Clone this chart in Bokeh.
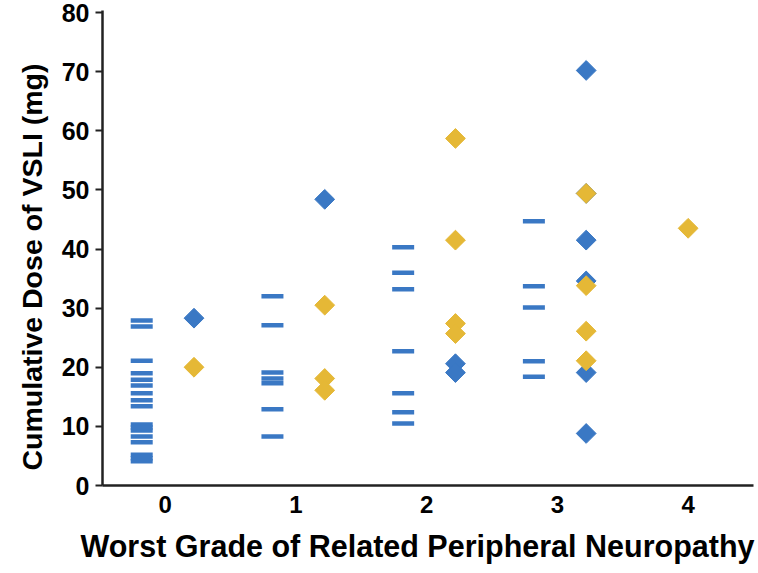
import numpy as np
from bokeh.plotting import figure
from bokeh.models import FixedTicker, Range1d, Title
from bokeh.embed import file_html
from bokeh.resources import INLINE

# Worst grade of related peripheral neuropathy (x categories)
grades = [0, 1, 2, 3, 4]
grade_labels = ["0", "1", "2", "3", "4"]

# Series 1: blue dashes (cumulative dose, mg) by grade
dash_grade = [0] * 17 + [1] * 7 + [2] * 7 + [3] * 5
dash_dose = [27.9, 26.9, 21.1, 19.0, 17.9, 16.9, 15.6, 14.4, 13.4,
             10.3, 9.3, 8.3, 7.3, 5.2, 4.1, 4.6, 9.8,
             32.0, 27.1, 19.1, 18.1, 17.3, 12.9, 8.3,
             40.3, 36.0, 33.2, 22.7, 15.6, 12.4, 10.5,
             44.7, 33.7, 30.1, 21.0, 18.4]

# Series 2: blue diamonds
blue_grade = [0, 1, 2, 2, 3, 3, 3, 3, 3, 3]
blue_dose = [28.3, 48.4, 20.6, 19.1, 70.2, 49.4, 41.5, 34.6, 19.1, 8.8]

# Series 3: yellow diamonds
yellow_grade = [0, 1, 1, 1, 2, 2, 2, 2, 3, 3, 3, 3, 4]
yellow_dose = [20.0, 30.5, 18.1, 16.1, 58.7, 41.5, 27.4, 25.7,
               49.4, 33.8, 26.1, 21.1, 43.5]

y_ticks = [0, 10, 20, 30, 40, 50, 60, 70, 80]

x_title = "Worst Grade of Related Peripheral Neuropathy"
y_title = "Cumulative Dose of VSLI (mg)"

BLUE = "#3A78C4"
YELLOW = "#E5B836"
FONT = "Liberation Sans"

# offsets: dashes left of the grade, diamonds right of it when both present
dash_groups = set(dash_grade)
def dia_x(g):
    return g + 0.22 if g in dash_groups else g
def dash_x(g):
    return g - 0.18

p = figure(width=756, height=573, output_backend="svg", toolbar_location=None,
           x_range=Range1d(-0.48, 4.5), y_range=Range1d(0, 80.34),
           min_border_left=102, min_border_right=3, min_border_top=10,
           min_border_bottom=88)
p.outline_line_color = None
p.grid.visible = False
p.background_fill_color = "white"
p.border_fill_color = "white"

p.scatter([dash_x(g) for g in dash_grade], dash_dose, marker="dash", size=22,
          line_color=BLUE, line_width=4.5)
p.scatter([dia_x(g) for g in blue_grade], blue_dose, marker="square",
          angle=np.pi / 4, size=14, fill_color=BLUE, line_color=BLUE)
p.scatter([dia_x(g) for g in yellow_grade], yellow_dose, marker="square",
          angle=np.pi / 4, size=14, fill_color=YELLOW, line_color=YELLOW)

xa = p.xaxis[0]
xa.ticker = FixedTicker(ticks=grades)
xa.major_label_overrides = {g: l for g, l in zip(grades, grade_labels)}
xa.major_tick_line_color = None
xa.minor_tick_line_color = None
xa.axis_line_width = 2.5
xa.axis_line_color = "#222222"
xa.major_label_text_font = FONT
xa.major_label_text_font_style = "bold"
xa.major_label_text_font_size = "24px"
xa.major_label_text_color = "black"
xa.major_label_standoff = 4

ya = p.yaxis[0]
ya.ticker = FixedTicker(ticks=y_ticks)
ya.minor_tick_line_color = None
ya.major_tick_in = 0
ya.major_tick_out = 7
ya.major_tick_line_width = 2
ya.major_tick_line_color = "#222222"
ya.axis_line_width = 2.5
ya.axis_line_color = "#222222"
ya.major_label_text_font = FONT
ya.major_label_text_font_style = "bold"
ya.major_label_text_font_size = "25px"
ya.major_label_text_color = "black"
ya.major_label_standoff = 6

# axis titles as side titles, shifted like the original
p.add_layout(Title(text=x_title, align="left", offset=-22, standoff=22,
                   text_font=FONT, text_font_style="bold",
                   text_font_size="30.5px", text_color="black"), "below")
p.add_layout(Title(text=y_title, align="left", offset=15, standoff=22,
                   text_font=FONT, text_font_style="bold",
                   text_font_size="28.5px", text_color="black"), "left")

open("out.html", "w").write(file_html(p, INLINE))
